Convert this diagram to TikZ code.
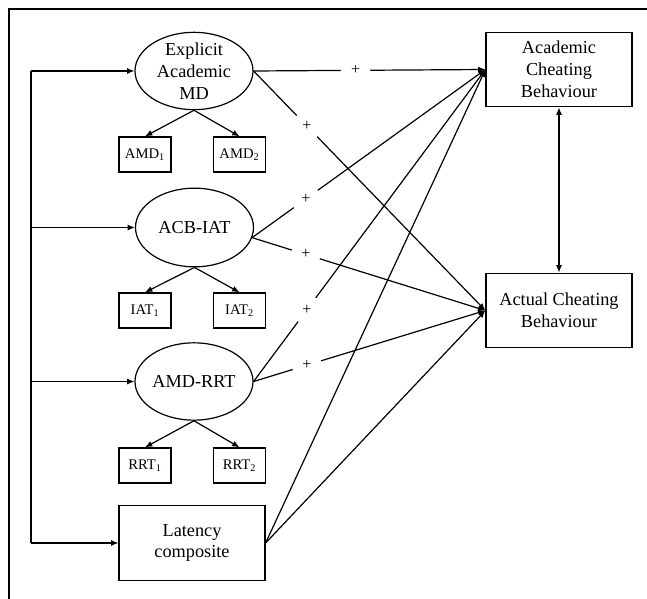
\documentclass[tikz,border=0pt]{standalone}
\usepackage{fontspec}
\setmainfont{Liberation Serif}
\usetikzlibrary{shapes.geometric,arrows.meta}
\begin{document}
\begin{tikzpicture}[x=0.75pt,y=-0.75pt,
  every path/.style={line width=0.9pt},
  arr/.style={-{Latex[length=5.5pt,width=4.5pt]}},
  darr/.style={{Latex[length=5.5pt,width=4.5pt]}-{Latex[length=5.5pt,width=4.5pt]}},
  latent/.style={draw,ellipse,inner sep=0pt,minimum width=88.5pt,minimum height=58pt},
  txt/.style={align=center,inner sep=0pt,font=\fontsize{13.7pt}{16.4pt}\selectfont},
  bigbox/.style={draw,rectangle,align=center,inner sep=0pt,minimum width=109.5pt,minimum height=56pt,font=\fontsize{13.7pt}{16.4pt}\selectfont},
  smallbox/.style={draw,rectangle,inner sep=0pt,minimum width=39pt,minimum height=26.3pt,font=\fontsize{11pt}{13pt}\selectfont},
  plus/.style={fill=white,circle,inner sep=0pt,minimum size=22pt,font=\fontsize{12pt}{14pt}\selectfont}
]
\useasboundingbox (0,0) rectangle (647,599);
% frame
\coordinate (fa) at (9,599);
\coordinate (fb) at (9,9);
\coordinate (fc) at (647,9);
\draw (fa) -- (fb) -- (fc);

% latent variables
\node[latent] (e1) at (194,71) {};
\node[txt] (e1t) at (e1) {Explicit\\Academic\\MD};
\node[latent,minimum height=59pt] (e2) at (194.5,227.5) {};
\node[txt] (e2t) at (e2) {ACB-IAT};
\node[latent] (e3) at (194,381.5) {};
\node[txt] (e3t) at (e3) {AMD-RRT};

% indicators
\node[smallbox] (amd1) at (145,154.5) {AMD\textsubscript{1}};
\node[smallbox] (amd2) at (239.5,154.5) {AMD\textsubscript{2}};
\node[smallbox] (iat1) at (145,310.5) {IAT\textsubscript{1}};
\node[smallbox] (iat2) at (239.5,310.5) {IAT\textsubscript{2}};
\node[smallbox] (rrt1) at (145,465.5) {RRT\textsubscript{1}};
\node[smallbox] (rrt2) at (239.5,465.5) {RRT\textsubscript{2}};

\node[bigbox] (lat) at (192,543) {Latency\\composite};
\node[bigbox] (acb) at (559,69.5) {Academic\\Cheating\\Behaviour};
\node[bigbox] (act) at (559,310.5) {Actual Cheating\\Behaviour};

% measurement arrows
\draw[arr] (e1.south) -- (amd1.north);
\draw[arr] (e1.south) -- (amd2.north);
\draw[arr] (e2.south) -- (iat1.north);
\draw[arr] (e2.south) -- (iat2.north);
\draw[arr] (e3.south) -- (rrt1.north);
\draw[arr] (e3.south) -- (rrt2.north);

% left feeder line
\coordinate (l1) at (31,71);
\coordinate (l2) at (31,227.5);
\coordinate (l3) at (31,381.5);
\coordinate (l4) at (31,543);
\draw (l1) -- (l4);
\draw[arr] (l1) -- (e1.west);
\draw[arr] (l2) -- (e2.west);
\draw[arr] (l3) -- (e3.west);
\draw[arr] (l4) -- (lat.west);

% structural paths
\draw[arr] (e1.east) -- node[plus,pos=0.44] {+} (acb.west);
\draw[arr] (e1.east) -- node[plus,pos=0.23] {+} (act.west);
\draw[arr] (e2.-10) -- node[plus,pos=0.23] {+} (acb.west);
\draw[arr] (e2.-10) -- node[plus,pos=0.23] {+} (act.west);
\draw[arr] (e3.east) -- node[plus,pos=0.23] {+} (acb.west);
\draw[arr] (e3.east) -- node[plus,pos=0.23] {+} (act.west);
\draw[arr] (lat.east) -- (acb.west);
\draw[arr] (lat.east) -- (act.west);

\draw[darr] (acb.south) -- (act.north);
\end{tikzpicture}
\end{document}
